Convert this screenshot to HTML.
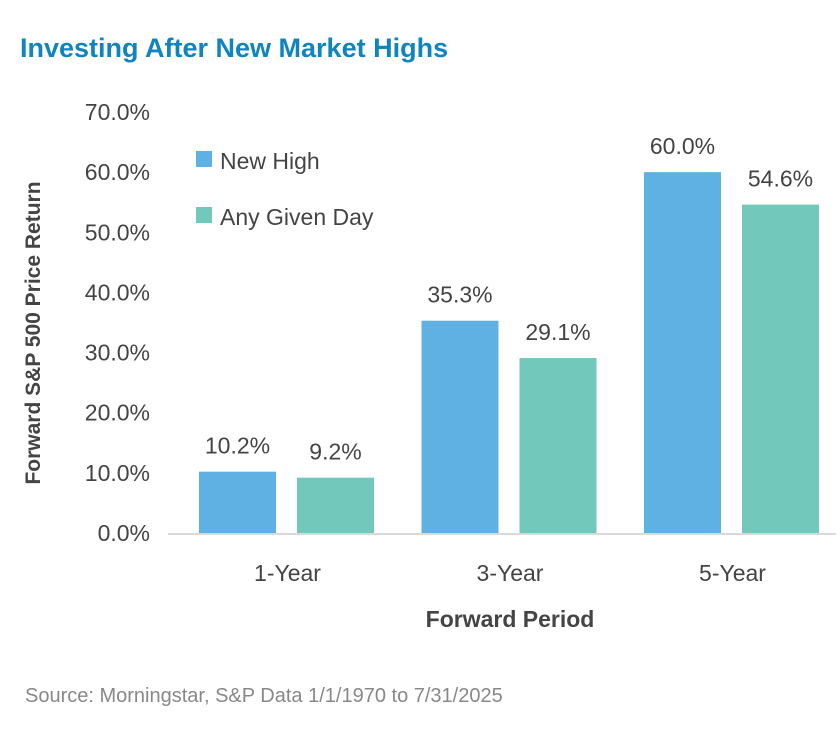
<!DOCTYPE html>
<html><head><meta charset="utf-8"><style>
body{margin:0;background:#fff;width:840px;height:735px;overflow:hidden;font-family:"Liberation Sans",sans-serif;}
</style></head><body>
<svg width="840" height="735" id="c">
<text x="20" y="57" font-size="27" font-weight="bold" fill="#0f84bf">Investing After New Market Highs</text>
<text transform="translate(40,333) rotate(-90)" text-anchor="middle" font-size="21" font-weight="bold" fill="#444">Forward S&amp;P 500 Price Return</text>
<text x="510" y="627" text-anchor="middle" font-size="23" font-weight="bold" fill="#444">Forward Period</text>
<text x="25" y="702" font-size="20" fill="#888">Source: Morningstar, S&amp;P Data 1/1/1970 to 7/31/2025</text>
<line x1="168" x2="836" y1="534" y2="534" stroke="#d9d9d9" stroke-width="2"/>
<rect x="196" y="151" width="16" height="16" fill="#5fb1e3"/>
<text x="220" y="169" font-size="23" fill="#444">New High</text>
<rect x="196" y="207" width="16" height="16" fill="#72c9bb"/>
<text x="220" y="225" font-size="23" fill="#444">Any Given Day</text>
<g id="g"></g>
</svg>
<script>
const categories=["1-Year","3-Year","5-Year"];
const newHigh=[10.2,35.3,60.0];
const anyDay=[9.2,29.1,54.6];
const yTicks=[0,10,20,30,40,50,60,70];
const ns="http://www.w3.org/2000/svg",g=document.getElementById("g");
const y=v=>533-v*6.014;
const cx=i=>287.5+i*222.5;
function mk(t,a,txt){const e=document.createElementNS(ns,t);for(const k in a)e.setAttribute(k,a[k]);if(txt!=null)e.textContent=txt;g.appendChild(e);return e;}
yTicks.forEach(v=>{const e=mk("text",{x:150,y:y(v)+8,"text-anchor":"end","font-size":23,fill:"#444"},v.toFixed(1)+"%");

});
categories.forEach((c,i)=>{
const t=mk("text",{x:cx(i),y:581,"text-anchor":"middle","font-size":23,fill:"#444"},c);


[[newHigh,"#5fb1e3",-88.5,"new-high"],[anyDay,"#72c9bb",9.5,"any-given-day"]].forEach(([s,col,off,nm])=>{
const v=s[i];
const r=mk("rect",{x:cx(i)+off,y:y(v),width:77,height:533-y(v),fill:col});


const l=mk("text",{x:cx(i)+off+38.5,y:y(v)-18,"text-anchor":"middle","font-size":23,fill:"#444"},v.toFixed(1)+"%");


});});
</script>
</body></html>
